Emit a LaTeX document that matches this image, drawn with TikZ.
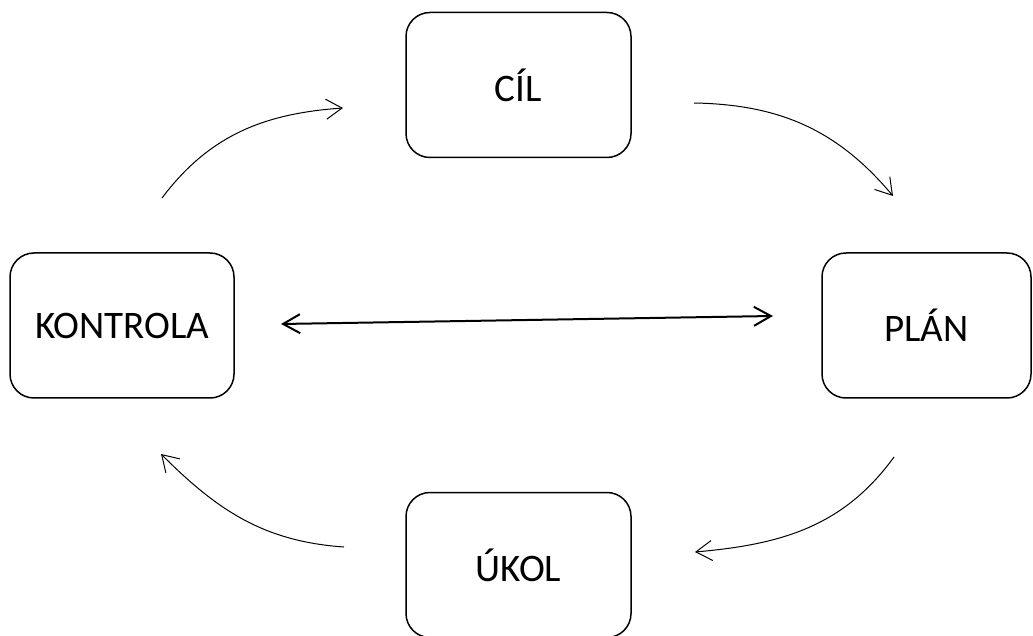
\documentclass[tikz,border=0pt]{standalone}
\usepackage{fontspec}
\setmainfont{Carlito}
\usetikzlibrary{arrows.meta}

\tikzset{
  box/.style = {draw, line width=1.5pt, rounded corners=24pt, minimum width=225pt,
                minimum height=145pt, inner sep=0pt, font=\fontsize{39}{46}\selectfont},
  flow/.style = {line width=1pt, -{Straight Barb[length=16pt, width=20pt, line width=1pt]}},
  both/.style = {line width=2pt, {Straight Barb[length=17pt, width=19pt]}-{Straight Barb[length=17pt, width=19pt]}}
}

\begin{document}
\begin{tikzpicture}[x=1pt, y=1pt]
\def\dx{0}
\def\dy{0}

\useasboundingbox (\dx, \dy) rectangle (\dx + 1033, \dy + 635);

\node[box] (cil) at (\dx + 518.5, \dy + 550) {CÍL};
\node[box, minimum width=224pt] (kontrola) at (\dx + 122, \dy + 309.5) {KONTROLA};
\node[box, minimum width=209pt] (plan) at (\dx + 926.5, \dy + 309.5) {PLÁN};
\node[box] (ukol) at (\dx + 518.5, \dy + 70) {ÚKOL};

\coordinate (tl1) at (\dx + 162, \dy + 437);
\coordinate (tl2) at (\dx + 343, \dy + 527);
\coordinate (tr1) at (\dx + 694, \dy + 532);
\coordinate (tr2) at (\dx + 893, \dy + 439);
\coordinate (br1) at (\dx + 894, \dy + 178);
\coordinate (br2) at (\dx + 695, \dy + 83);
\coordinate (bl1) at (\dx + 344, \dy + 88);
\coordinate (bl2) at (\dx + 161, \dy + 181);
\coordinate (m1) at (\dx + 281, \dy + 311);
\coordinate (m2) at (\dx + 773, \dy + 319);

\draw[flow] (tl1) to[out=53, in=184] (tl2);
\draw[flow] (tr1) to[out=-1, in=130] (tr2);
\draw[flow] (br1) to[out=-126, in=5] (br2);
\draw[flow] (bl1) to[out=176, in=-45] (bl2);
\draw[both] (m1) -- (m2);
\end{tikzpicture}
\end{document}
